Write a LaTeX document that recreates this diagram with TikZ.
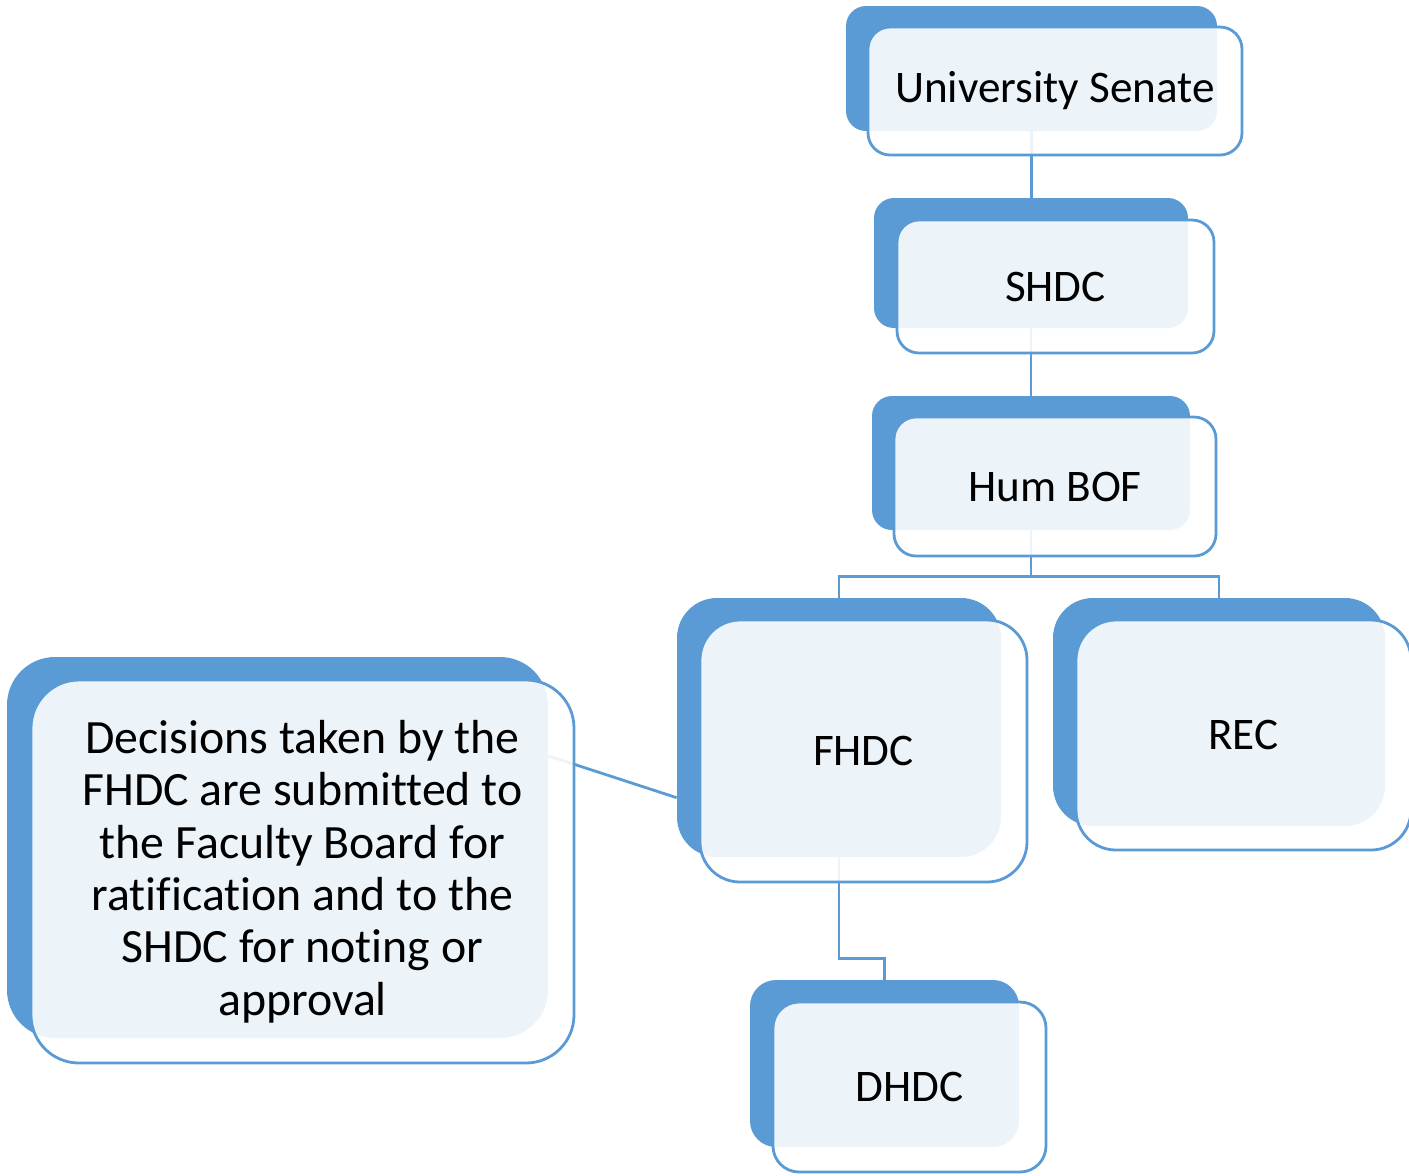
\documentclass[tikz,border=0pt]{standalone}
\usepackage{fontspec}
\setmainfont{Carlito}[Ligatures=NoCommon]
\usetikzlibrary{positioning,calc}
\definecolor{boxblue}{HTML}{5B9BD5}

\begin{document}
\begin{tikzpicture}[x=0.5pt,y=-0.5pt]
\tikzstyle{back}=[fill=boxblue, inner sep=0pt, rounded corners=10pt]
\tikzstyle{front}=[draw=boxblue, line width=1.4pt, fill=white, fill opacity=0.89, text opacity=1, inner sep=0pt, rounded corners=11pt, align=center, font=\fontsize{22.6}{26.2}\selectfont]
\tikzstyle{link}=[draw=boxblue, line width=1.4pt]
\useasboundingbox (0,0) rectangle (1409,1175);
% back boxes
\node[back, minimum width=185.5pt, minimum height=62.5pt] (us) at (1031.5,68.5) {};
\node[back, minimum width=157pt, minimum height=65pt] (shdc) at (1031,263) {};
\node[back, minimum width=159pt, minimum height=67pt] (hum) at (1031,463) {};
\node[back, minimum width=162pt, minimum height=129.5pt, rounded corners=20pt] (fhdc) at (839,727.5) {};
\node[back, minimum width=166pt, minimum height=114pt, rounded corners=20pt] (rec) at (1219,712) {};
\node[back, minimum width=134.5pt, minimum height=83.5pt, rounded corners=13pt] (dhdc) at (884.5,1063.5) {};
\node[back, minimum width=270.5pt, minimum height=190.5pt, rounded corners=24pt] (dec) at (277.5,847.5) {};
% connectors
\draw[link] (us.south) -- (us.south |- shdc.north);
\draw[link] (shdc.south) -- (shdc.south |- hum.north);
\coordinate (split) at ($(hum.south)+(0,46)$);
\draw[link] (hum.south) -- (split) -| (fhdc.north);
\draw[link] (split) -| (rec.north);
\draw[link] (fhdc.south) -- ++(0,101) -| (dhdc.north);
\draw[link] ($(dec.north east)!0.26!(dec.south east)$) -- ($(fhdc.north west)!0.77!(fhdc.south west)$);
% front boxes
\node[front, minimum width=187pt, minimum height=64pt] (usf) at (1055,91) {University Senate};
\node[front, minimum width=158.5pt, minimum height=66.5pt] (shdcf) at (1055.5,286.5) {SHDC};
\node[front, minimum width=161pt, minimum height=69.5pt] (humf) at (1055,486.5) {Hum BOF};
\node[front, minimum width=163.5pt, minimum height=131pt, rounded corners=20pt] (fhdcf) at (863.5,751) {FHDC};
\node[front, minimum width=167.5pt, minimum height=115pt, rounded corners=20pt] (recf) at (1243.5,735) {REC};
\node[front, minimum width=136.5pt, minimum height=85pt, rounded corners=13pt] (dhdcf) at (909.5,1087) {DHDC};
\node[front, minimum width=271.5pt, minimum height=191.5pt, rounded corners=24pt, font=\fontsize{23.9}{26.2}\selectfont] (decf) at (302.5,871.5) {Decisions taken by the\\FHDC are submitted to\\the Faculty Board for\\ratification and to the\\SHDC for noting or\\approval};
\end{tikzpicture}
\end{document}
